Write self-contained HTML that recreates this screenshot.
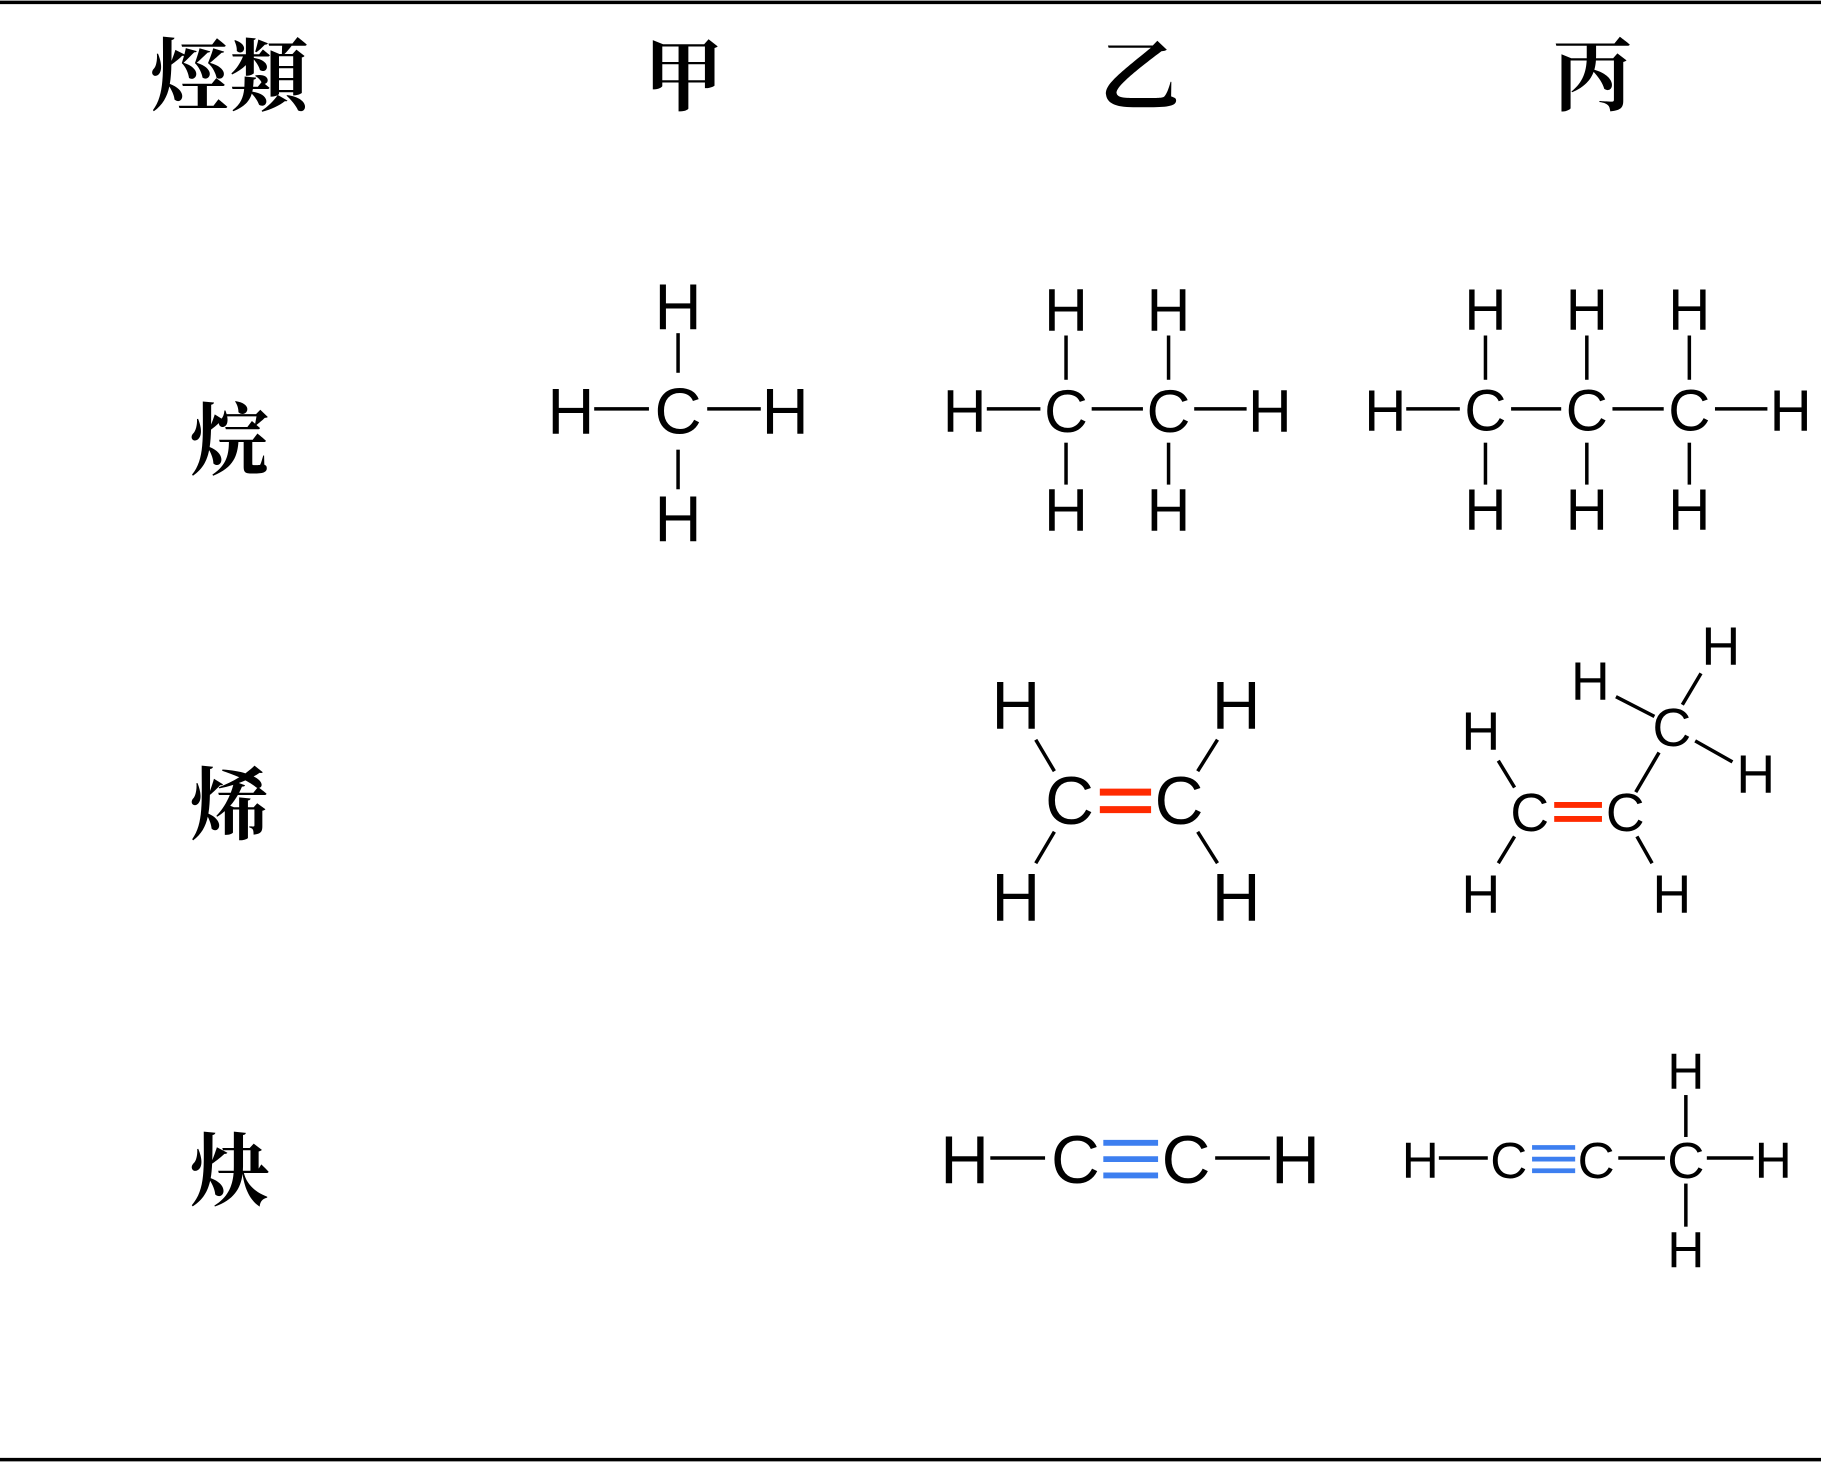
<!DOCTYPE html>
<html><head><meta charset="utf-8"><style>html,body{margin:0;padding:0;background:#fff}svg{display:block}</style></head>
<body>
<svg width="1821" height="1462" viewBox="0 0 1563 1255" preserveAspectRatio="none" xmlns="http://www.w3.org/2000/svg">
<rect width="1563" height="1255" fill="#fff"/>
<line x1="0" y1="2" x2="1563" y2="2" stroke="#000" stroke-width="3"/>
<line x1="0" y1="1253" x2="1563" y2="1253" stroke="#000" stroke-width="3"/>
<g font-family="'Noto Serif CJK SC',serif" font-weight="700" font-size="68" text-anchor="middle" dominant-baseline="central" fill="#000">
<text x="197" y="60">烴類</text>
<text x="587" y="60">甲</text>
<text x="978" y="60">乙</text>
<text x="1367" y="60">丙</text>
<text x="197" y="373">烷</text>
<text x="197" y="686">烯</text>
<text x="197" y="1000">炔</text>
</g>
<g transform="translate(-3,-2)">
<g font-family="'Liberation Sans',sans-serif" text-anchor="middle" dominant-baseline="central" fill="#000">
<g font-size="56">
<text x="585" y="265">H</text><text x="585" y="355">C</text><text x="585" y="447">H</text>
<text x="493" y="355">H</text><text x="677" y="355">H</text>
</g>
<g stroke="#000" stroke-width="3">
<line x1="585" y1="288" x2="585" y2="322"/><line x1="585" y1="388" x2="585" y2="422"/>
<line x1="513" y1="353" x2="560" y2="353"/><line x1="610" y1="353" x2="656" y2="353"/>
</g>
<g font-size="52">
<text x="831" y="355">H</text><text x="918" y="355">C</text><text x="1006" y="355">C</text><text x="1093" y="355">H</text>
<text x="918" y="268">H</text><text x="1006" y="268">H</text><text x="918" y="440">H</text><text x="1006" y="440">H</text>
</g>
<g stroke="#000" stroke-width="3">
<line x1="850" y1="353" x2="896" y2="353"/><line x1="940" y1="353" x2="984" y2="353"/><line x1="1028" y1="353" x2="1073" y2="353"/>
<line x1="918" y1="290" x2="918" y2="328"/><line x1="1006" y1="290" x2="1006" y2="328"/>
<line x1="918" y1="382" x2="918" y2="418"/><line x1="1006" y1="382" x2="1006" y2="418"/>
</g>
<g font-size="50">
<text x="1192" y="355">H</text><text x="1278" y="355">C</text><text x="1365" y="355">C</text><text x="1453" y="355">C</text><text x="1540" y="355">H</text>
<text x="1278" y="268">H</text><text x="1365" y="268">H</text><text x="1453" y="268">H</text>
<text x="1278" y="440">H</text><text x="1365" y="440">H</text><text x="1453" y="440">H</text>
</g>
<g stroke="#000" stroke-width="3">
<line x1="1210" y1="353" x2="1256" y2="353"/><line x1="1300" y1="353" x2="1343" y2="353"/><line x1="1387" y1="353" x2="1431" y2="353"/><line x1="1475" y1="353" x2="1520" y2="353"/>
<line x1="1278" y1="290" x2="1278" y2="328"/><line x1="1365" y1="290" x2="1365" y2="328"/><line x1="1453" y1="290" x2="1453" y2="328"/>
<line x1="1278" y1="382" x2="1278" y2="418"/><line x1="1365" y1="382" x2="1365" y2="418"/><line x1="1453" y1="382" x2="1453" y2="418"/>
</g>
<g font-size="58">
<text x="921" y="690">C</text><text x="1015" y="690">C</text>
<text x="875" y="608">H</text><text x="1064" y="608">H</text><text x="875" y="773">H</text><text x="1064" y="773">H</text>
</g>
<g stroke="#000" stroke-width="3">
<line x1="892" y1="637" x2="908" y2="664"/><line x1="1048" y1="637" x2="1031" y2="664"/>
<line x1="892" y1="743" x2="908" y2="716"/><line x1="1048" y1="743" x2="1031" y2="716"/>
</g>
<g stroke="#ff2a00" stroke-width="6"><line x1="947" y1="682" x2="991" y2="682"/><line x1="947" y1="697" x2="991" y2="697"/></g>
<g font-size="46">
<text x="1316" y="700">C</text><text x="1398" y="700">C</text><text x="1438" y="627">C</text>
<text x="1274" y="630">H</text><text x="1274" y="770">H</text><text x="1438" y="770">H</text>
<text x="1368" y="587">H</text><text x="1480" y="557">H</text><text x="1510" y="667">H</text>
</g>
<g stroke="#000" stroke-width="3">
<line x1="1289" y1="655" x2="1303" y2="678"/><line x1="1289" y1="743" x2="1303" y2="720"/>
<line x1="1421" y1="743" x2="1408" y2="720"/><line x1="1407" y1="682" x2="1427" y2="648"/>
<line x1="1390" y1="600" x2="1423" y2="617"/><line x1="1447" y1="607" x2="1463" y2="580"/>
<line x1="1458" y1="638" x2="1490" y2="656"/>
</g>
<g stroke="#ff2a00" stroke-width="5"><line x1="1337" y1="693" x2="1378" y2="693"/><line x1="1337" y1="705" x2="1378" y2="705"/></g>
<g font-size="58">
<text x="831" y="998">H</text><text x="926" y="998">C</text><text x="1021" y="998">C</text><text x="1115" y="998">H</text>
</g>
<g stroke="#000" stroke-width="3"><line x1="853" y1="996" x2="900" y2="996"/><line x1="1046" y1="996" x2="1093" y2="996"/></g>
<g stroke="#3d7ff0" stroke-width="5"><line x1="950" y1="983" x2="997" y2="983"/><line x1="950" y1="997" x2="997" y2="997"/><line x1="950" y1="1011" x2="997" y2="1011"/></g>
<g font-size="44">
<text x="1222" y="998">H</text><text x="1298" y="998">C</text><text x="1373" y="998">C</text><text x="1450" y="998">C</text><text x="1525" y="998">H</text>
<text x="1450" y="922">H</text><text x="1450" y="1075">H</text>
</g>
<g stroke="#000" stroke-width="3">
<line x1="1238" y1="996" x2="1280" y2="996"/><line x1="1392" y1="996" x2="1432" y2="996"/><line x1="1468" y1="996" x2="1508" y2="996"/>
<line x1="1450" y1="942" x2="1450" y2="978"/><line x1="1450" y1="1018" x2="1450" y2="1055"/>
</g>
<g stroke="#3d7ff0" stroke-width="4"><line x1="1318" y1="987" x2="1355" y2="987"/><line x1="1318" y1="997" x2="1355" y2="997"/><line x1="1318" y1="1007" x2="1355" y2="1007"/></g>
</g>
</g>
</svg>
</body></html>
